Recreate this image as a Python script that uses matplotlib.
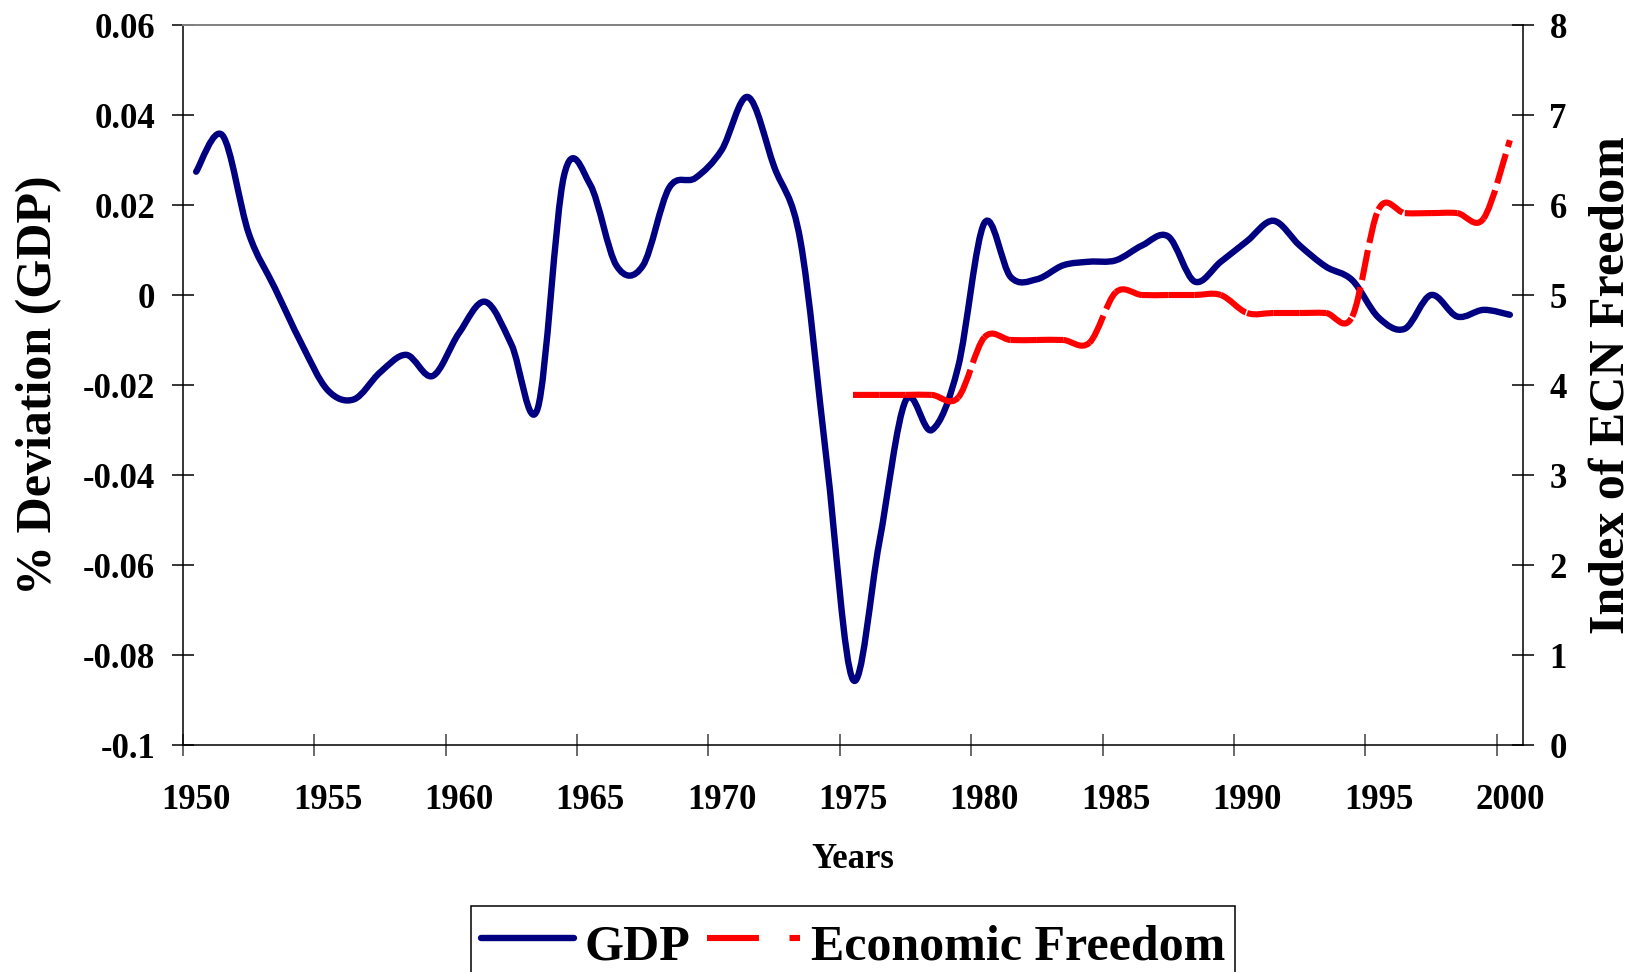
import matplotlib
matplotlib.use("Agg")
import matplotlib.pyplot as plt
from matplotlib.path import Path
from matplotlib.patches import PathPatch
from matplotlib.lines import Line2D

# data
years = list(range(1950, 2001))
gdp = [0.0274, 0.0355, 0.0137, 0.0015, -0.0107, -0.0211, -0.0232, -0.0172, -0.0133, -0.0180,
       -0.0085, -0.0015, -0.0110, -0.0252, 0.0265, 0.0245, 0.0065, 0.0065, 0.0238, 0.0260,
       0.0322, 0.0440, 0.0285, 0.0120, -0.0370, -0.0855, -0.0550, -0.0235, -0.0300, -0.0160,
       0.0160, 0.0040, 0.0035, 0.0066, 0.0074, 0.0077, 0.0110, 0.0130, 0.0030, 0.0074,
       0.0120, 0.0165, 0.0110, 0.0063, 0.0033, -0.0050, -0.0075, 0.0000, -0.0048, -0.0033,
       -0.0044]
ef_years = list(range(1975, 2001))
ef = [3.89, 3.89, 3.89, 3.89, 3.86, 4.53, 4.50, 4.50, 4.50, 4.47,
      5.03, 5.00, 5.00, 5.00, 5.00, 4.80, 4.80, 4.80, 4.80, 4.76,
      5.95, 5.91, 5.91, 5.91, 5.85, 6.72]

left_ticks = [0.06, 0.04, 0.02, 0, -0.02, -0.04, -0.06, -0.08, -0.1]
left_labels = ["0.06", "0.04", "0.02", "0", "-0.02", "-0.04", "-0.06", "-0.08", "-0.1"]
right_ticks = [0, 1, 2, 3, 4, 5, 6, 7, 8]
year_labels = ["1950", "1955", "1960", "1965", "1970", "1975", "1980", "1985", "1990", "1995", "2000"]

navy = "#000080"
red = "#FF0000"

plt.rcParams["font.family"] = "Liberation Serif"
plt.rcParams["font.weight"] = "bold"
plt.rcParams["axes.labelweight"] = "bold"


def bezier_segments(x, y):
    # excel-like smoothed line: cubic bezier pieces through the points
    n = len(x)
    segs = []
    for i in range(n - 1):
        x0, y0 = (x[i - 1], y[i - 1]) if i > 0 else (x[i], y[i])
        x3, y3 = (x[i + 2], y[i + 2]) if i + 2 < n else (x[i + 1], y[i + 1])
        c1 = (x[i] + (x[i + 1] - x0) / 6, y[i] + (y[i + 1] - y0) / 6)
        c2 = (x[i + 1] - (x3 - x[i]) / 6, y[i + 1] - (y3 - y[i]) / 6)
        segs.append([(x[i], y[i]), c1, c2, (x[i + 1], y[i + 1])])
    return segs


fig = plt.figure(figsize=(16.44, 9.72), dpi=100)
ax = fig.add_axes([183 / 1644, 1 - 745 / 972, 1340 / 1644, 720 / 972])
ax2 = ax.twinx()

# GDP as one smooth path
segs = bezier_segments(years, gdp)
verts = [segs[0][0]]
codes = [Path.MOVETO]
for s in segs:
    verts += s[1:]
    codes += [Path.CURVE4] * 3
ax.add_patch(PathPatch(Path(verts, codes), fill=False, edgecolor=navy, lw=4.6,
                       capstyle="round", joinstyle="round"))

# economic freedom, dash pattern restarts on every segment
for s in bezier_segments(ef_years, ef):
    p = PathPatch(Path(s, [Path.MOVETO] + [Path.CURVE4] * 3), fill=False, edgecolor=red,
                  lw=4.4, linestyle=(0, (5.0, 1.2)), capstyle="butt", joinstyle="round")
    ax2.add_patch(p)

ax.set_xlim(1949.5, 2000.5)
ax.set_ylim(-0.1, 0.06)
ax2.set_ylim(0, 8)

ax.set_xticks([1949.5 + 5 * k for k in range(11)])
ax.set_xticks([1950 + 5 * k for k in range(11)], labels=year_labels, minor=True)
ax.tick_params(axis="x", which="major", direction="inout", length=16, width=1.1,
               color="#404040", labelbottom=False)
ax.tick_params(axis="x", which="minor", length=0, pad=28, labelsize=25)
ax.set_yticks(left_ticks, labels=left_labels)
ax.tick_params(axis="y", direction="inout", length=16, width=1.1, pad=12, labelsize=25)
ax2.set_yticks(right_ticks)
ax2.tick_params(axis="y", direction="inout", length=16, width=1.1, pad=11, labelsize=25)

for sp in ["left", "bottom"]:
    ax.spines[sp].set_linewidth(1.1)
    ax.spines[sp].set_color("black")
ax.spines["top"].set_color("#808080")
ax.spines["top"].set_linewidth(1.4)
ax.spines["right"].set_visible(False)
for sp in ["left", "top", "bottom"]:
    ax2.spines[sp].set_visible(False)
ax2.spines["right"].set_linewidth(1.1)

lab = ax.set_ylabel("% Deviation (GDP)", fontsize=36, fontweight="bold")
ax.yaxis.set_label_coords(-0.1075, 0.5)
lab.set_va("center")
lab2 = ax2.set_ylabel("Index of ECN Freedom", fontsize=36, fontweight="bold", rotation=90)
ax2.yaxis.set_label_coords(1.0664, 0.5)
lab2.set_va("center")
xl = ax.set_xlabel("Years", fontsize=25, fontweight="bold")
ax.xaxis.set_label_coords(0.5, -0.1708)
xl.set_va("baseline")

handles = [Line2D([], [], color=navy, lw=4.6, solid_capstyle="round"),
           Line2D([], [], color=red, lw=4.4, linestyle=(0, (8.5, 5.0)), dash_capstyle="butt")]
leg = fig.legend(handles, ["GDP", "Economic Freedom"], loc="upper left",
                 bbox_to_anchor=(471 / 1644, 1 - 906 / 972), ncol=2, fontsize=36,
                 frameon=True, fancybox=False, edgecolor="black", framealpha=1,
                 borderaxespad=0, borderpad=0.2, handlelength=1.85, handleheight=1.25,
                 handletextpad=0.22, columnspacing=0.34)
leg.get_frame().set_linewidth(1.1)

fig.savefig("out.png", dpi=100)
